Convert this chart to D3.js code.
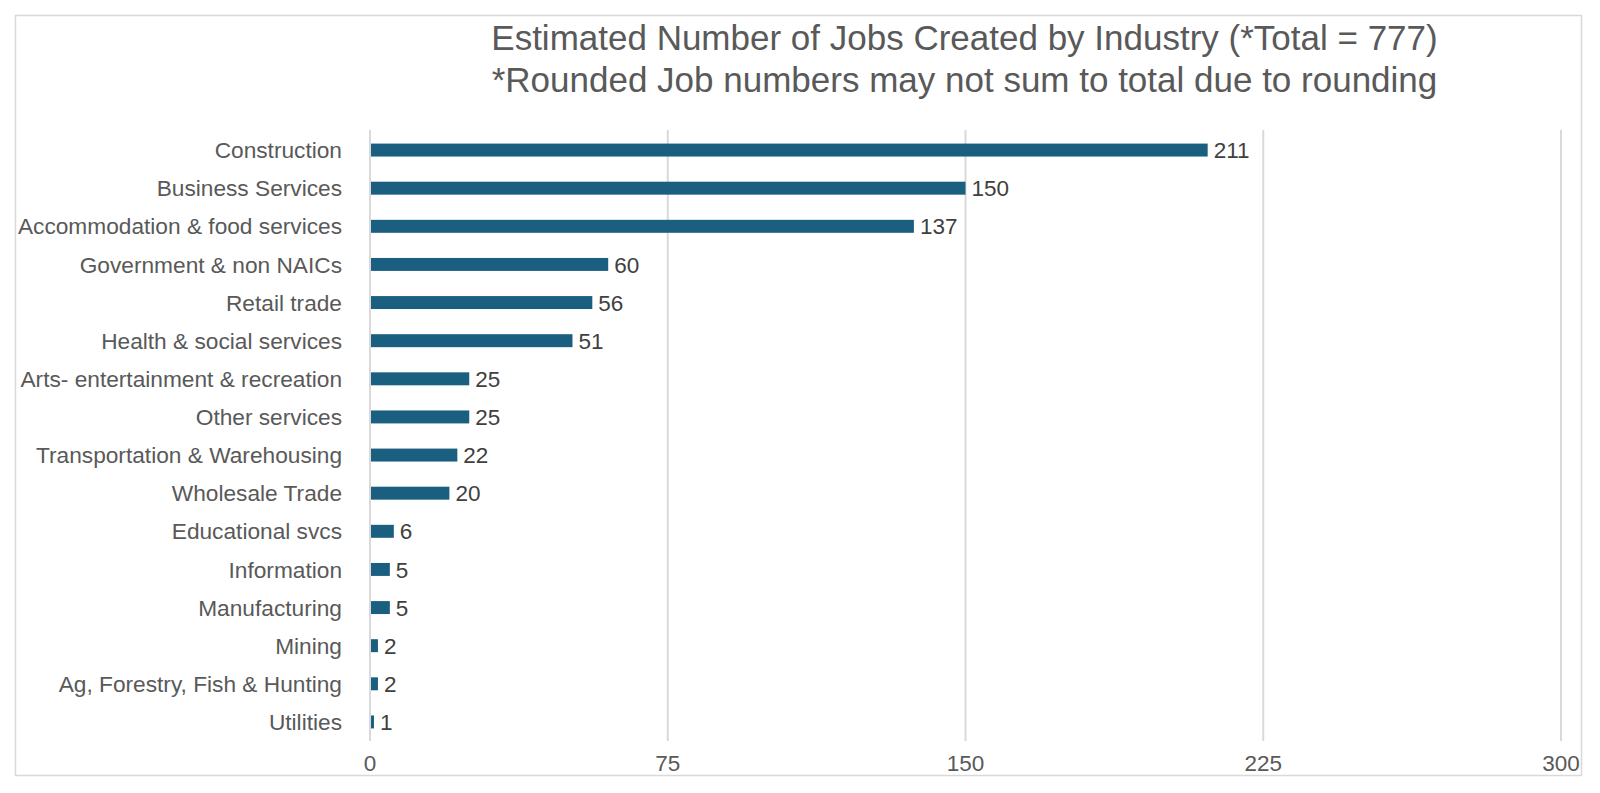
<!DOCTYPE html>
<html lang="en">
<head>
  <meta charset="UTF-8">
  <title>Estimated Number of Jobs Created by Industry</title>
  <script src="https://d3js.org/d3.v7.min.js"></script>
  <style>
    body { margin: 0; background: #fff; }
    text { font-family: "Liberation Sans", Arial, Helvetica, sans-serif; }
  </style>
</head>
<body>
  <svg width="1600" height="793"></svg>

  <script>
    // Chart data
    const industries = [
      'Construction', 'Business Services', 'Accommodation & food services',
      'Government & non NAICs', 'Retail trade', 'Health & social services',
      'Arts- entertainment & recreation', 'Other services',
      'Transportation & Warehousing', 'Wholesale Trade', 'Educational svcs',
      'Information', 'Manufacturing', 'Mining', 'Ag, Forestry, Fish & Hunting',
      'Utilities'
    ];
    const jobs = [211, 150, 137, 60, 56, 51, 25, 25, 22, 20, 6, 5, 5, 2, 2, 1];
    const xTicks = [0, 75, 150, 225, 300];
    const titleLines = [
      'Estimated Number of Jobs Created by Industry (*Total = 777)',
      '*Rounded Job numbers may not sum to total due to rounding'
    ];

    const svg = d3.select('svg');

    // outer frame
    svg.append('rect')
      .attr('x', 15.5).attr('y', 15.5)
      .attr('width', 1566).attr('height', 760)
      .attr('fill', '#fff')
      .attr('stroke', '#d9d9d9')
      .attr('stroke-width', 1.5);

    const plotLeft = 370, plotRight = 1561, plotTop = 131, plotBottom = 741;

    const x = d3.scaleLinear().domain([0, 300]).range([plotLeft, plotRight]);
    const y = d3.scaleBand().domain(industries).range([plotTop, plotBottom]).paddingInner(0.66).paddingOuter(0.33);

    // gridlines
    svg.selectAll('.grid')
      .data(xTicks)
      .enter().append('line')
      .attr('class', 'grid')
      .attr('x1', d => x(d)).attr('x2', d => x(d))
      .attr('y1', plotTop - 1).attr('y2', plotBottom)
      .attr('stroke', '#d9d9d9')
      .attr('stroke-width', 2);

    // tick labels
    svg.selectAll('.tick-label')
      .data(xTicks)
      .enter().append('text')
      .attr('class', 'tick-label')
      .attr('x', d => x(d))
      .attr('y', 771)
      .attr('text-anchor', 'middle')
      .attr('font-size', 22.5)
      .attr('fill', '#595959')
      .text(d => d);

    // bars
    svg.selectAll('.bar')
      .data(jobs)
      .enter().append('rect')
      .attr('class', 'bar')
      .attr('x', x(0) + 1)
      .attr('y', (d, i) => y(industries[i]))
      .attr('width', d => x(d) - x(0) - 1)
      .attr('height', y.bandwidth())
      .attr('fill', '#1a5e80');

    // value labels
    svg.selectAll('.value')
      .data(jobs)
      .enter().append('text')
      .attr('class', 'value')
      .attr('x', d => x(d) + 6)
      .attr('y', (d, i) => y(industries[i]) + y.bandwidth() / 2)
      .attr('dy', '0.36em')
      .attr('font-size', 22.5)
      .attr('fill', '#404040')
      .text(d => d);

    // category labels
    svg.selectAll('.cat')
      .data(industries)
      .enter().append('text')
      .attr('class', 'cat')
      .attr('x', plotLeft - 28)
      .attr('y', d => y(d) + y.bandwidth() / 2)
      .attr('dy', '0.36em')
      .attr('text-anchor', 'end')
      .attr('font-size', 22.7)
      .attr('fill', '#595959')
      .text(d => d);

    // title
    svg.selectAll('.title')
      .data(titleLines)
      .enter().append('text')
      .attr('class', 'title')
      .attr('x', (plotLeft + plotRight) / 2 - 1)
      .attr('y', (d, i) => 50 + i * 42)
      .attr('text-anchor', 'middle')
      .attr('font-size', 35)
      .attr('fill', '#595959')
      .text(d => d);
  </script>
</body>
</html>
